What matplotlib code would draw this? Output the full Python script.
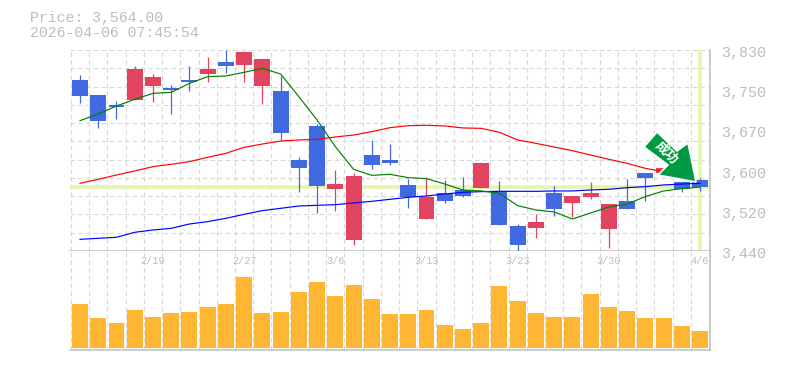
import matplotlib
matplotlib.use('Agg')
import matplotlib.pyplot as plt
from matplotlib.patches import Polygon
from matplotlib.transforms import Affine2D

# prices
opens = [3771.8, 3742.7, 3723.3, 3733.0, 3760.2, 3756.3, 3771.8, 3783.4, 3806.7, 3800.9, 3760.2, 3750.5,
         3616.6, 3682.6, 3560.3, 3461.4, 3626.3, 3616.6, 3568.1, 3502.1, 3552.6, 3558.4, 3562.3, 3556.5,
         3488.6, 3484.7, 3552.6, 3533.2, 3544.8, 3482.7, 3537.0, 3591.4, 3592.0, 3573.9, 3577.8]
closes = [3740.8, 3692.3, 3719.4, 3793.1, 3777.6, 3752.4, 3767.9, 3793.1, 3799.0, 3826.1, 3812.5, 3669.0,
          3601.0, 3566.1, 3570.0, 3585.6, 3606.9, 3611.4, 3544.8, 3544.8, 3537.0, 3546.8, 3610.8, 3490.5,
          3451.7, 3496.3, 3521.5, 3546.8, 3552.6, 3531.2, 3521.5, 3581.7, 3601.1, 3560.3, 3564.2]
highs = [3781.5, 3742.7, 3731.1, 3799.0, 3783.4, 3762.1, 3799.0, 3816.4, 3830.0, 3826.1, 3812.5, 3779.6,
         3622.4, 3686.4, 3597.2, 3591.4, 3655.4, 3647.6, 3579.7, 3583.6, 3577.8, 3583.6, 3612.7, 3575.9,
         3492.4, 3511.8, 3566.1, 3546.8, 3573.9, 3531.2, 3579.7, 3591.4, 3601.1, 3573.9, 3581.7]
lows = [3727.2, 3678.7, 3696.1, 3733.0, 3729.1, 3705.8, 3750.5, 3767.9, 3785.4, 3767.9, 3725.2, 3655.4,
        3554.5, 3513.8, 3517.6, 3451.7, 3599.1, 3606.9, 3523.5, 3502.1, 3533.2, 3544.8, 3562.3, 3490.5,
        3440.7, 3465.3, 3508.0, 3506.0, 3540.9, 3445.9, 3521.5, 3537.0, 3590.0, 3554.5, 3556.5]
ma_short = [3692.9, 3705.8, 3721.4, 3734.3, 3745.9, 3747.9, 3765.3, 3778.3, 3779.6, 3786.7, 3794.4, 3783.4,
            3739.5, 3694.2, 3642.5, 3598.5, 3586.8, 3588.8, 3582.3, 3580.4, 3570.0, 3558.4, 3556.5, 3551.9,
            3528.0, 3519.6, 3515.7, 3502.1, 3513.8, 3525.4, 3531.2, 3545.5, 3556.5, 3561.0, 3564.2]
ma_mid = [3571.3, 3579.1, 3587.5, 3595.3, 3603.7, 3608.2, 3613.4, 3621.8, 3629.5, 3641.2, 3647.6, 3653.4,
          3655.4, 3656.7, 3661.2, 3665.1, 3671.6, 3679.3, 3683.2, 3683.9, 3682.6, 3678.7, 3678.0, 3670.3,
          3655.4, 3648.9, 3641.8, 3634.7, 3626.3, 3617.9, 3610.1, 3600.4, 3594.0, 3588.8]
ma_long = [3462.7, 3464.6, 3466.6, 3476.3, 3480.8, 3484.0, 3492.4, 3497.0, 3503.4, 3511.2, 3518.3, 3522.8,
           3527.3, 3528.6, 3529.9, 3533.2, 3536.4, 3540.3, 3544.2, 3546.8, 3550.6, 3553.9, 3555.2, 3555.8,
           3555.8, 3555.8, 3556.5, 3556.5, 3558.4, 3559.7, 3562.9, 3564.9, 3568.1, 3570.0, 3571.3]
volumes = [44, 30, 25, 38, 31, 35, 36, 41, 44, 71, 35, 36, 56, 66, 52, 63, 49, 34,
           34, 38, 23, 19, 25, 62, 47, 35, 31, 31, 54, 41, 37, 30, 30, 22, 17]
price_ticks = [3830, 3752, 3674, 3596, 3518, 3440]
price_labels = ['3,830', '3,750', '3,670', '3,600', '3,520', '3,440']
date_pos = [4, 9, 14, 19, 24, 29, 34]
date_labels = ['2/19', '2/27', '3/6', '3/13', '3/23', '3/30', '4/6']
last_price = 3564

BLUE = '#4169e1'
RED = '#e2445f'
GRID = '#d8d8d8'
EDGE = '#c0c0c0'
TEXT = '#bdbdbd'
PALE = '#e4f5ae'
MONO = 'Liberation Mono'

W, H = 785, 370
fig = plt.figure(figsize=(W / 100, H / 100), dpi=100)


def panel(top, bottom):
    return fig.add_axes([70 / W, 1 - bottom / H, 639.5 / W, (bottom - top) / H])


ax = panel(50, 251)
vol = panel(251, 350)

xs = list(range(len(opens)))
for a in (ax, vol):
    a.set_xlim(-0.55, 34.52)
    a.set_xticks([i - 0.5 for i in range(35)] + [34.5])
    a.tick_params(length=0, labelbottom=False, labelleft=False)
    a.grid(axis='x', color=GRID, lw=0.8, ls=(0, (4, 3)))
    a.set_axisbelow(True)
    for s in a.spines.values():
        s.set_visible(False)
    for side in ('bottom', 'right'):
        a.spines[side].set_visible(True)
        a.spines[side].set_color(EDGE)
        a.spines[side].set_linewidth(1.1)

# price panel
ax.set_ylim(3440, 3830)
ax.set_yticks([3830 - i * 390 / 11 for i in range(12)])
ax.grid(axis='y', color=GRID, lw=0.8, ls=(0, (4, 3)))
ax.axhline(last_price, color=PALE, lw=2.6, zorder=1)
ax.axvline(34, ymin=0.01, ymax=1.0, color=PALE, lw=2.6, zorder=1)

for i in xs:
    c = RED if closes[i] > opens[i] else BLUE
    ax.plot([i, i], [lows[i], highs[i]], color=c, lw=0.9, zorder=3, clip_on=False, solid_capstyle='butt')
    ax.bar(i, abs(closes[i] - opens[i]), 0.875, bottom=min(opens[i], closes[i]), color=c, zorder=3)

ax.plot(xs, ma_long, color='#0000ff', lw=0.85, zorder=4)
ax.plot(xs[:len(ma_mid)], ma_mid, color='#ff0000', lw=0.85, zorder=4)
ax.plot(xs, ma_short, color='#008000', lw=0.85, zorder=4)

for p, label in zip(price_ticks, price_labels):
    ax.annotate(label, (1, p), xycoords=('axes fraction', 'data'), xytext=(8, -2.2), textcoords='offset points',
                family=MONO, fontsize=10.8, color=TEXT, va='center', ha='left', annotation_clip=False)

# volume panel
vol.set_ylim(-2, 97)
vol.bar(xs, volumes, 0.875, color='#ffb733', zorder=3)
for i, label in zip(date_pos, date_labels):
    vol.annotate(label, (i, 1), xycoords=('data', 'axes fraction'), xytext=(0, -7), textcoords='offset points',
                 family=MONO, fontsize=7.3, color=TEXT, ha='center', va='center', annotation_clip=False)

# header text
fig.text(30 / W, 1 - 18 / H, 'Price: 3,564.00', family=MONO, fontsize=10.7, color=TEXT, va='center')
fig.text(30 / W, 1 - 33 / H, '2026-04-06 07:45:54', family=MONO, fontsize=10.7, color=TEXT, va='center')

# signal arrow, placed in screen pixels
to_fig = Affine2D().scale(1, -1).translate(0, H)
arrow = [(644, 147), (657, 132), (677, 151), (688, 143), (696, 182), (658, 175), (668, 165)]
fig.add_artist(Polygon(arrow, closed=True, facecolor='#009944', edgecolor='white', lw=1.2, transform=to_fig, zorder=6))
fig.text(667 / W, 1 - 153 / H, '成功', family=['Noto Sans CJK JP', 'DejaVu Sans'], fontsize=9.5, weight='bold',
         color='white', rotation=-45, rotation_mode='anchor', ha='center', va='center', zorder=7)

fig.savefig('out.png', dpi=100)
